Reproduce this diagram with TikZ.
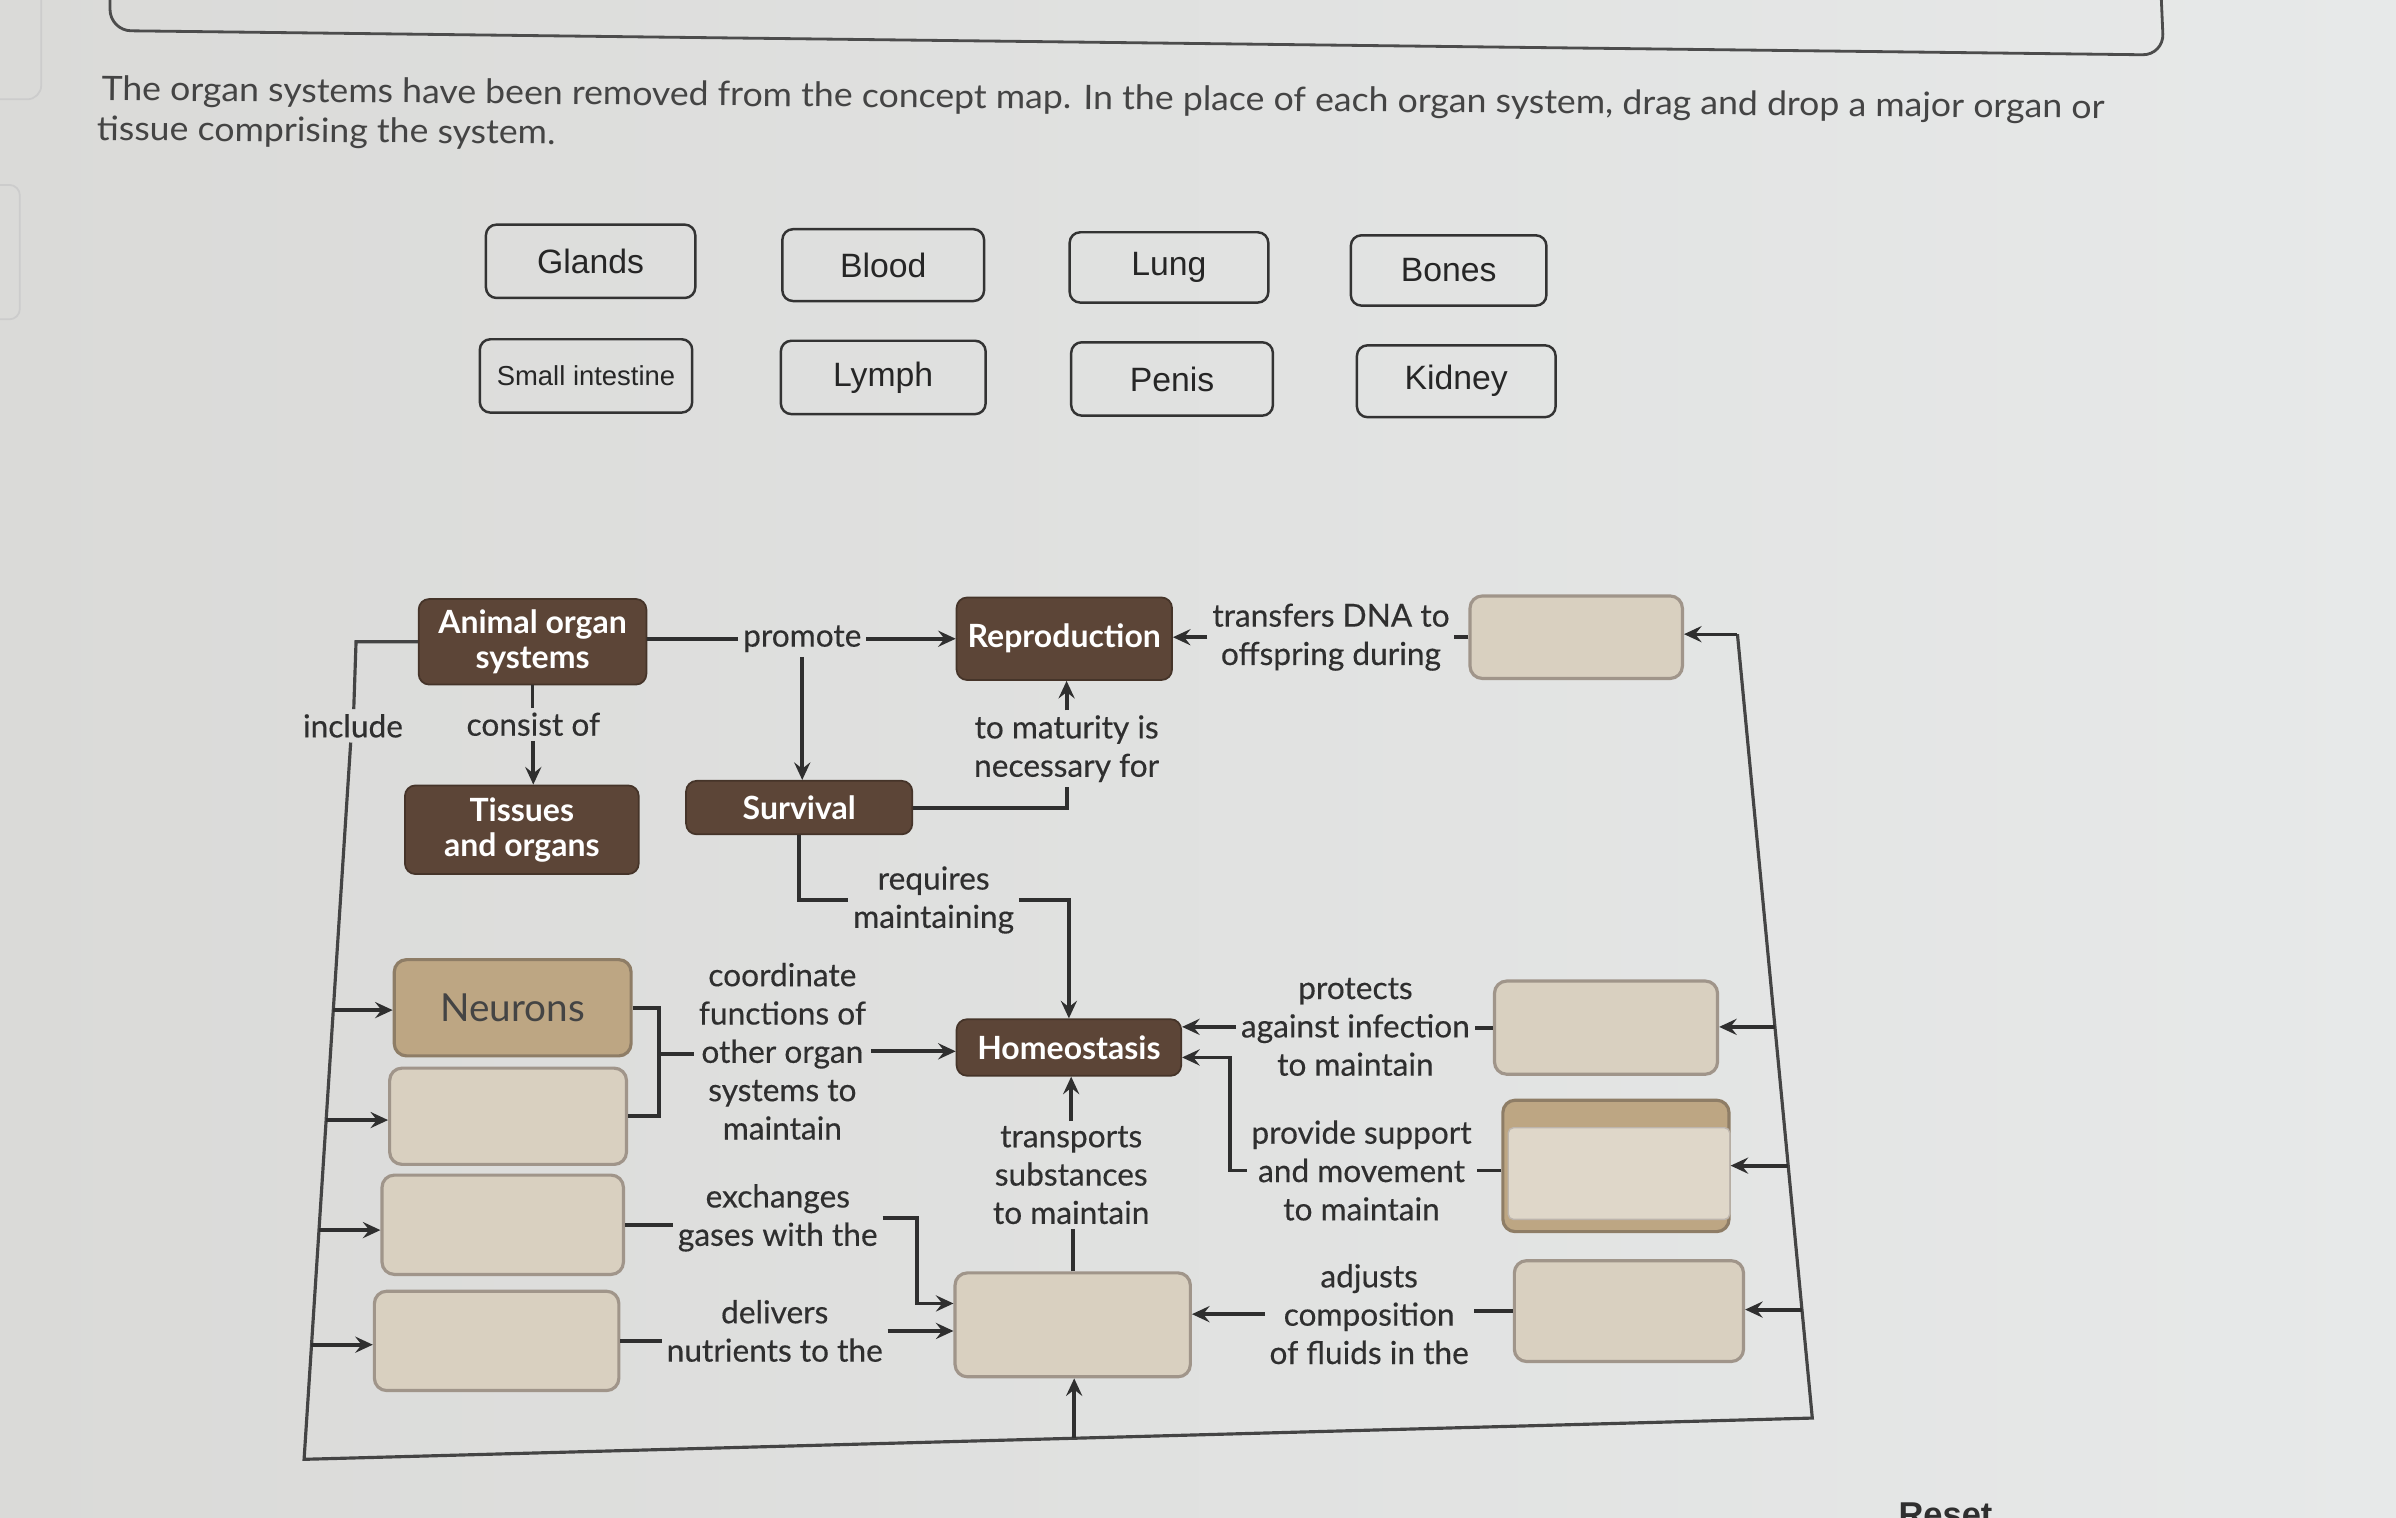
\documentclass[tikz,border=0pt]{standalone}
\usepackage{fontspec}
\setmainfont{Lato}
\newfontfamily\arialf{Liberation Sans}
\newfontfamily\lblf[FakeBold=0.35]{Lato}
\usetikzlibrary{arrows.meta}
\def\pxu{0.01528cm}
\definecolor{dkb}{HTML}{5C4537}
\definecolor{tanf}{HTML}{BDA683}
\definecolor{tanb}{HTML}{8E7D66}
\definecolor{emf}{HTML}{D9D0C0}
\definecolor{emb}{HTML}{A0958A}
\definecolor{ink}{HTML}{2F2F2F}
\definecolor{bgl}{HTML}{DADAD8}
\definecolor{bgr}{HTML}{E7E9E9}
\tikzset{
  box/.style 2 args={minimum width=#1*\pxu, minimum height=#2*\pxu, inner sep=0pt},
  dkbox/.style={fill=dkb, draw=dkb!75!black, line width=0.5pt, rounded corners=3pt, text=white,
    align=center, font=\fontsize{9.1}{10}\selectfont\bfseries},
  embox/.style={fill=emf, draw=emb, line width=0.9pt, rounded corners=3.5pt},
  tanbox/.style={fill=tanf, draw=tanb, line width=0.9pt, rounded corners=3.5pt, text=ink!90,
    font=\fontsize{11}{13}\selectfont},
  btn/.style={draw=black!80, line width=0.7pt, rounded corners=3pt, text=black!85,
    font=\arialf\fontsize{9.6}{11}\selectfont, inner sep=0pt},
  lbl/.style={align=center, font=\lblf\fontsize{9.0}{10.9}\selectfont, text=ink, inner sep=1.2pt},
  instr/.style={anchor=west, rotate=-0.52, xscale=1.056, transform shape, inner sep=0pt, text=ink!90,
    font=\fontsize{9.6}{11}\selectfont},
  conn/.style={draw=ink, line width=1.1pt},
  arr/.style={conn, -{Stealth[length=5pt,width=4.6pt,inset=1.8pt]}},
  framel/.style={draw=ink!90, line width=0.9pt},
}
\begin{document}
\begin{tikzpicture}[x=\pxu, y=-\pxu]
\useasboundingbox (0,0) rectangle (1568,993);
\clip (0,0) rectangle (1568,993);
\shade[left color=bgl, right color=bgr] (0,0) rectangle (1568,993);

% faint shapes at left edge and top panel
\draw[black!20, line width=0.5pt, rounded corners=4pt] (-10,-10) -- (27,-10) -- (27,65) -- (-10,65);
\draw[black!20, line width=0.5pt, rounded corners=3pt] (-10,121) -- (13,121) -- (13,209) -- (-10,209);
\draw[black!70, line width=0.8pt, rounded corners=6pt] (72,-10) -- (72,20) -- (1416,36) -- (1414,-10);

% instructions
\node[instr] (instr1) at (66,59.5)
  {The organ systems have been removed from the concept map. In the place of each organ system, drag and drop a major organ or};
\node[instr] (instr2) at (63,85.5)
  {tissue comprising the system.};

% answer buttons
\node[btn, box={137}{48}] (glands) at (386.5,171) {Glands};
\node[btn, box={132}{47}] (blood) at (578,173.5) {Blood};
\node[btn, box={130}{46}] (lung) at (765,175) {Lung};
\node[btn, box={128}{46}] (bones) at (948,177) {Bones};
\node[btn, box={139}{48}, font=\arialf\fontsize{7.8}{9}\selectfont] (small) at (383.5,246) {Small intestine};
\node[btn, box={134}{48}] (lymph) at (578,247) {Lymph};
\node[btn, box={132}{48}] (penis) at (767,248) {Penis};
\node[btn, box={130}{47}] (kidney) at (953,249.5) {Kidney};

% concept map boxes
\node[dkbox, box={149}{56}] (aos) at (348.5,420) {Animal organ\\systems};
\node[dkbox, box={141}{54}] (rep) at (696.5,418) {Reproduction};
\node[embox, box={139}{54}] (trbox) at (1031.5,417) {};
\node[dkbox, box={153}{58}] (tis) at (341.5,543) {Tissues\\and organs};
\node[dkbox, box={148}{35}] (sur) at (523,528.5) {Survival};
\node[tanbox, box={155}{63}] (neu) at (335.5,659.5) {Neurons};
\node[embox, box={155}{63}] (b2) at (332.5,730.5) {};
\node[embox, box={158}{65}] (b3) at (329,801.5) {};
\node[embox, box={160}{65}] (b4) at (325,877.5) {};
\node[dkbox, box={147}{37}] (hom) at (699.5,685.5) {Homeostasis};
\node[embox, box={154}{68}] (bot) at (702,867) {};
\node[embox, box={146}{61}] (r1) at (1051,672.5) {};
\node[embox, box={148}{86}, fill=tanf, draw=tanb] (r2) at (1057.5,763) {};
\fill[emf!85!white, draw=emb!70, line width=0.4pt, rounded corners=1.5pt] (987,738) rectangle (1132,798);
\node[embox, box={150}{66}] (r3) at (1066,858) {};

% labels
\node[lbl] (promote) at (525,418) {promote};
\node[lbl] (transfers) at (871,417) {transfers DNA to\\offspring during};
\node[lbl] (include) at (231,475) {include};
\node[lbl] (consist) at (349,474) {consist of};
\node[lbl] (maturity) at (698,490) {to maturity is\\necessary for};
\node[lbl] (requires) at (611,589) {requires\\maintaining};
\node[lbl] (coord) at (512,688) {coordinate\\functions of\\other organ\\systems to\\maintain};
\node[lbl] (exch) at (509,797) {exchanges\\gases with the};
\node[lbl] (deliv) at (507,871) {delivers\\nutrients to the};
\node[lbl] (transp) at (701,769) {transports\\substances\\to maintain};
\node[lbl] (protects) at (887,672) {protects\\against infection\\to maintain};
\node[lbl] (support) at (891,766) {provide support\\and movement\\to maintain};
\node[lbl] (adjusts) at (896,860) {adjusts\\composition\\of fluids in the};

\node[anchor=base west, inner sep=0pt, text=ink, font=\arialf\bfseries\fontsize{9.8}{11}\selectfont] (reset) at (1242,999) {Reset};

% frame coordinates
\coordinate (lt) at (233,420);
\coordinate (lb) at (199,955);
\coordinate (rb) at (1186,928);
\coordinate (rt) at (1137,415);
\coordinate (bx) at (431,690);
\coordinate (ex) at (600,853);
\coordinate (sx) at (805,692);
\coordinate (it) at (231.5,0);
\coordinate (ib) at (229.5,0);

% frame
\draw[framel] (aos.west |- lt) -- (lt) -- (include.north -| it);
\draw[framel] (include.south -| ib) -- (lb) -- (rb) -- (rt);
\draw[arr, line width=0.9pt] (rt) -- (rt -| trbox.east);
\path (lt) -- (lb) coordinate[pos=0.4505] (l1) coordinate[pos=0.585] (l2) coordinate[pos=0.7196] (l3) coordinate[pos=0.8598] (l4);
\draw[arr] (l1) -- (l1 -| neu.west);
\draw[arr] (l2) -- (l2 -| b2.west);
\draw[arr] (l3) -- (l3 -| b3.west);
\draw[arr] (l4) -- (l4 -| b4.west);
\path (rt) -- (rb) coordinate[pos=0.501] (q1) coordinate[pos=0.678] (q2) coordinate[pos=0.8616] (q3);
\draw[arr] (q1) -- (q1 -| r1.east);
\draw[arr] (q2) -- (q2 -| r2.east);
\draw[arr] (q3) -- (q3 -| r3.east);
\path (lb) -- (rb) coordinate[pos=0.5106] (bu);
\draw[arr] (bu) -- (bu |- bot.south);

% connectors
\draw[conn] (aos.east |- promote.west) -- (promote.west);
\draw[arr] (promote.east) -- (promote.east -| rep.west);
\draw[arr] (promote.south) -- (promote.south |- sur.north);
\draw[conn] (aos.south) -- (aos.south |- consist.north);
\draw[arr] (consist.south) -- (consist.south |- tis.north);
\draw[conn] (trbox.west) -- (trbox.west -| transfers.east);
\draw[arr] (transfers.west) -- (transfers.west -| rep.east);
\draw[conn] (sur.east) -| (maturity.south);
\draw[arr] (maturity.north) -- (maturity.north |- rep.south);
\draw[conn] (sur.south) |- (requires.west);
\draw[arr] (requires.east) -| (hom.north);
\draw[conn] (neu.east) -- (neu.east -| bx) -- (b2.east -| bx) -- (b2.east);
\draw[conn] (bx) -- (bx -| coord.west);
\draw[arr] (coord.east) -- (coord.east -| hom.west);
\draw[conn] (b3.east) -- (b3.east -| exch.west);
\draw[arr] (exch.east) -- (exch.east -| ex) -- (ex) -- (ex -| bot.west);
\draw[conn] (b4.east) -- (b4.east -| deliv.west);
\draw[arr] (deliv.east) -- (deliv.east -| bot.west);
\draw[conn] (bot.north) -- (bot.north |- transp.south);
\draw[arr] (transp.north) -- (transp.north |- hom.south);
\draw[conn] (r1.west) -- (r1.west -| protects.east);
\draw[arr] (protects.west) -- (protects.west -| hom.east);
\draw[conn] (r2.west |- support.east) -- (support.east);
\draw[arr] (support.west) -- (support.west -| sx) -- (sx) -- (sx -| hom.east);
\draw[conn] (r3.west) -- (r3.west -| adjusts.east);
\draw[arr] (adjusts.west) -- (adjusts.west -| bot.east);
\end{tikzpicture}
\end{document}
